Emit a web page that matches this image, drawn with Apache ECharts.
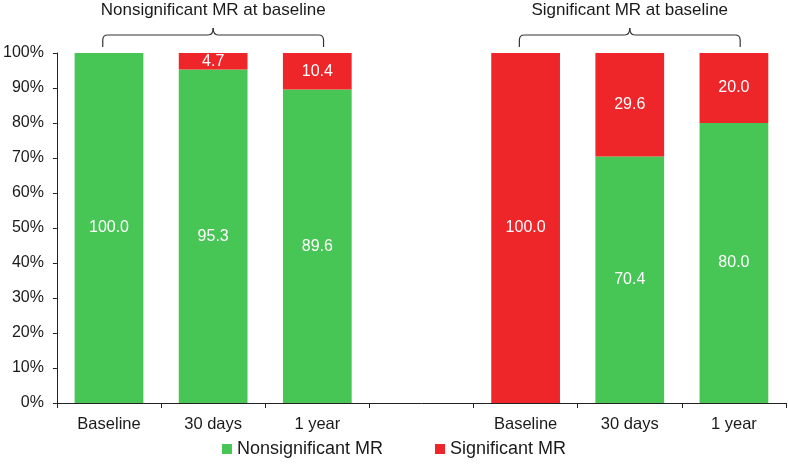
<!DOCTYPE html>
<html>
<head>
<meta charset="utf-8">
<script src="https://cdn.jsdelivr.net/npm/echarts@6/dist/echarts.min.js"></script>
<style>html,body{margin:0;padding:0;background:#fff;}#c{width:788px;height:468px;}</style>
</head>
<body>
<div id="c"></div>
<script>
var categories = ['Baseline', '30 days', '1 year', '', 'Baseline', '30 days', '1 year'];
var nonsignificant = [100.0, 95.3, 89.6, null, null, 70.4, 80.0];
var significant = [null, 4.7, 10.4, null, 100.0, 29.6, 20.0];
var yTicks = [0, 10, 20, 30, 40, 50, 60, 70, 80, 90, 100];
var groupTitles = ['Nonsignificant MR at baseline', 'Significant MR at baseline'];
var groupRanges = [[0, 2], [4, 6]];

var GREEN = '#47c555';
var RED = '#ee2529';
var FONT = '"Liberation Sans", Arial, sans-serif';

var chart = echarts.init(document.getElementById('c'), null, {renderer: 'canvas'});

function lbl(p) { return (p.value == null) ? '' : Number(p.value).toFixed(1); }

chart.setOption({
  animation: false,
  backgroundColor: '#ffffff',
  textStyle: {fontFamily: FONT},
  grid: {left: 56, right: 2, top: 53, bottom: 65, containLabel: false},
  legend: {
    bottom: 5,
    left: 'center',
    itemWidth: 10,
    itemHeight: 10,
    itemGap: 52,
    icon: 'rect',
    textStyle: {fontSize: 18, color: '#1a1a1a', fontFamily: FONT},
    data: ['Nonsignificant MR', 'Significant MR']
  },
  xAxis: {
    type: 'category',
    data: categories,
    axisLine: {lineStyle: {color: '#222', width: 1}},
    axisTick: {show: true, length: 5, lineStyle: {color: '#222'}},
    axisLabel: {fontSize: 16.5, color: '#1a1a1a', margin: 13, fontFamily: FONT},
    splitLine: {show: false}
  },
  yAxis: {
    type: 'value',
    min: yTicks[0],
    max: yTicks[yTicks.length - 1],
    interval: 10,
    axisLine: {show: true, lineStyle: {color: '#222', width: 1}},
    axisTick: {show: true, length: 4, lineStyle: {color: '#222'}},
    axisLabel: {fontSize: 16, color: '#1a1a1a', margin: 13, fontFamily: FONT, formatter: '{value}%'},
    splitLine: {show: false}
  },
  series: [
    {
      name: 'Nonsignificant MR',
      type: 'bar',
      stack: 'a',
      data: nonsignificant,
      barCategoryGap: '34%',
      itemStyle: {color: GREEN},
      label: {show: true, position: 'inside', color: '#ffffff', fontSize: 16, fontFamily: FONT, formatter: lbl}
    },
    {
      name: 'Significant MR',
      type: 'bar',
      stack: 'a',
      data: significant,
      barCategoryGap: '34%',
      itemStyle: {color: RED},
      label: {show: true, position: 'inside', color: '#ffffff', fontSize: 16, fontFamily: FONT, formatter: lbl}
    }
  ]
});

function drawBrackets() {
  var graphics = [];
  var band = chart.convertToPixel({xAxisIndex: 0}, 1) - chart.convertToPixel({xAxisIndex: 0}, 0);
  var st = {stroke: '#333', lineWidth: 1.2, fill: null};
  groupRanges.forEach(function (r, i) {
    var xa = chart.convertToPixel({xAxisIndex: 0}, r[0]) - band * 0.06;
    var xb = chart.convertToPixel({xAxisIndex: 0}, r[1]) + band * 0.06;
    var cx = (xa + xb) / 2;
    var yBottom = 47, yLine = 35, yPeak = 28, rr = 5;
    graphics.push({type: 'line', shape: {x1: xa, y1: yBottom, x2: xa, y2: yLine + rr}, style: st});
    graphics.push({type: 'bezierCurve', shape: {x1: xa, y1: yLine + rr, cpx1: xa, cpy1: yLine, x2: xa + rr, y2: yLine}, style: st});
    graphics.push({type: 'line', shape: {x1: xa + rr, y1: yLine, x2: cx - rr, y2: yLine}, style: st});
    graphics.push({type: 'bezierCurve', shape: {x1: cx - rr, y1: yLine, cpx1: cx, cpy1: yLine, x2: cx, y2: yPeak}, style: st});
    graphics.push({type: 'bezierCurve', shape: {x1: cx, y1: yPeak, cpx1: cx, cpy1: yLine, x2: cx + rr, y2: yLine}, style: st});
    graphics.push({type: 'line', shape: {x1: cx + rr, y1: yLine, x2: xb - rr, y2: yLine}, style: st});
    graphics.push({type: 'bezierCurve', shape: {x1: xb - rr, y1: yLine, cpx1: xb, cpy1: yLine, x2: xb, y2: yLine + rr}, style: st});
    graphics.push({type: 'line', shape: {x1: xb, y1: yLine + rr, x2: xb, y2: yBottom}, style: st});
    graphics.push({
      type: 'text',
      x: cx,
      y: 10,
      style: {text: groupTitles[i], fill: '#1a1a1a', font: '17px ' + FONT, textAlign: 'center', textVerticalAlign: 'middle'}
    });
  });
  chart.setOption({graphic: graphics});
}
drawBrackets();
</script>
</body>
</html>
